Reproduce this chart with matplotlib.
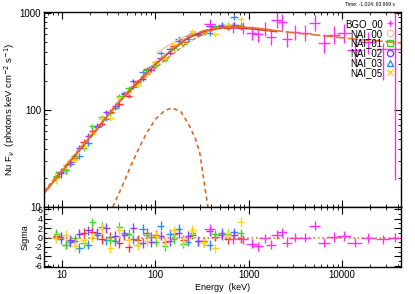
import numpy as np
import matplotlib
matplotlib.use("Agg")
import matplotlib.pyplot as plt
from matplotlib.lines import Line2D
from matplotlib.ticker import LogLocator, NullFormatter, MultipleLocator

plt.rcParams['font.family'] = ['Liberation Sans', 'DejaVu Sans']
plt.rcParams['axes.unicode_minus'] = False

# model curves (keV, nuFnu)
model_e = [6.4, 10, 15, 20, 30, 40, 60, 100, 150, 220, 320, 450, 650, 900, 1300, 2000, 3500, 6000, 10000, 18000, 30000, 43000]
model_f = [14, 23.5, 38, 53, 85, 120, 185, 300, 420, 560, 650, 705, 725, 715, 690, 655, 615, 585, 555, 525, 505, 490]
nai_model_e = [6.4, 10, 20, 40, 100, 150, 220, 320, 450, 650, 900, 1300, 2000]
nai_model_f = [13.8, 23.2, 52, 118, 295, 410, 545, 635, 690, 705, 695, 672, 640]
comp_e = [6.4, 10, 20, 40, 60, 100, 150, 220, 320, 450, 650, 900, 1300, 2000]
comp_f = [14.6, 24.3, 54, 118, 172, 270, 370, 490, 600, 680, 715, 712, 690, 655]
peach_e = [105, 130, 170, 220, 280]
peach_f = [390, 445, 520, 585, 630]
bb_e = [35, 45, 55, 68, 81, 100, 125, 151, 190, 235, 270, 300, 340, 367]
bb_f = [10, 17, 27, 42, 58, 80, 98, 105, 95, 67, 50, 36, 16, 10]

# NaI energy bins
grid_a = [8.7, 10.9, 13.6, 17.0, 21.2, 26.5, 33, 41, 52, 65, 81, 101, 127, 158, 198, 250, 330, 440, 600, 820]
grid_a_lo = [8.0, 10.0, 12.5, 15.6, 19.5, 24.4, 30.4, 37.7, 47.8, 59.8, 74.5, 92.9, 117, 145, 182, 230, 300, 400, 550, 750]
grid_a_hi = [9.5, 11.9, 14.8, 18.5, 23.1, 28.9, 36.0, 44.7, 56.7, 70.9, 88.3, 110, 138, 172, 216, 272, 360, 480, 650, 900]
relerr_a = [0.12, 0.09, 0.08, 0.07, 0.06, 0.06, 0.06, 0.05, 0.05, 0.05, 0.05, 0.05, 0.05, 0.05, 0.05, 0.05, 0.05, 0.06, 0.06, 0.07]

grid_b = [9.7, 12.2, 15.2, 19.0, 23.8, 29.7, 37, 46.5, 58, 73, 91, 114, 142, 178, 224, 290, 385, 520, 700]
grid_b_lo = [8.9, 11.2, 14.0, 17.5, 21.9, 27.3, 34.0, 42.8, 53.4, 67.2, 83.7, 105, 131, 164, 206, 265, 350, 475, 640]
grid_b_hi = [10.6, 13.3, 16.6, 20.7, 25.9, 32.4, 40.3, 50.7, 63.2, 79.6, 99.2, 124, 155, 194, 244, 316, 420, 565, 765]
relerr_b = [0.10, 0.08, 0.07, 0.07, 0.06, 0.06, 0.05, 0.05, 0.05, 0.05, 0.05, 0.05, 0.05, 0.05, 0.05, 0.05, 0.06, 0.06, 0.07]

nai00_f = [20.4, 23.8, 32.3, 46.6, 60.8, 72.2, 96.1, 114, 140, 194, 261, 312, 344, 460, 500, 610, 624, 708, 705, 709]
nai00_r = [0.3, -1.5, -0.8, 1.0, 1.2, -0.3, 0.2, -1.2, -2.0, -0.5, 1.0, 0.5, -1.0, 0.8, -0.5, 0.6, -0.8, 0.2, -0.4, -0.2]
nai01_f = [21.0, 23.8, 33.5, 40.8, 67.6, 83.6, 92.2, 139, 167, 182, 255, 287, 326, 431, 476, 621, 616, 729, 757, 757]
nai01_r = [0.8, -1.5, -0.2, -1.2, 3.2, 2.3, -0.5, 2.2, 0.8, -1.5, 0.6, -0.9, -1.8, -0.3, -1.3, 0.9, -1.0, 0.7, 0.8, 0.9]
nai05_f = [19.8, 26.9, 30.2, 42.4, 56.7, 81.4, 81.9, 134, 153, 181, 234, 310, 340, 479, 494, 649, 616, 603, 744, 860]
nai05_r = [-0.2, 0.5, -1.8, -0.6, 0.0, 1.8, -2.3, 1.5, -0.6, -1.6, -0.8, 0.4, -1.2, 1.5, -0.7, 1.7, -1.0, -2.3, 0.5, 3.3]
nai02_f = [23.0, 28.9, 40.3, 54.5, 68.7, 94.1, 111, 145, 199, 207, 259, 342, 383, 517, 573, 602, 733, 736, 750]
nai02_r = [0.2, -0.5, 0.8, 1.5, 1.0, 2.0, 0.3, 0.5, 2.0, -1.2, -1.0, 0.4, -0.8, 1.0, 0.3, -0.7, 1.3, 0.5, 0.6]
nai03_f = [22.3, 28.0, 33.4, 45.5, 66.7, 81.0, 104, 149, 174, 247, 278, 384, 421, 544, 533, 598, 615, 758, 900]
nai03_r = [-0.3, -1.0, -2.2, -1.5, 0.5, -0.6, -0.8, 0.9, -0.4, 1.8, 0.2, 2.5, 0.8, 1.9, -0.9, -0.8, -1.6, 1.0, 1.1]

# BGO
bgo_e = [385, 680, 870, 1090, 1260, 1500, 1740, 2020, 2280, 2580, 3140, 4020, 5150, 6430, 8230, 10500, 13800, 19000, 27600, 37000]
bgo_lo = [330, 590, 760, 950, 1100, 1300, 1520, 1760, 2000, 2260, 2700, 3450, 4400, 5500, 7000, 8800, 11500, 16000, 23000, 31000]
bgo_hi = [440, 760, 980, 1230, 1420, 1690, 1960, 2280, 2570, 2920, 3600, 4650, 5900, 7400, 9600, 12500, 16500, 22500, 33000, 43000]
bgo_f = [760, 715, 700, 620, 600, 690, 566, 847, 807, 540, 636, 621, 789, 490, 593, 621, 416, 500, 420, 420]
bgo_dn = [90, 90, 90, 100, 100, 110, 100, 150, 140, 100, 110, 110, 140, 100, 120, 130, 110, 120, 215, 401]
bgo_up = [100, 100, 100, 110, 110, 120, 110, 170, 160, 110, 120, 130, 160, 110, 140, 150, 130, 140, 70, 730]
bgo_r = [1.9, -0.4, -0.4, -1.3, -1.9, -0.2, -1.5, 0.6, 1.1, -1.1, 0.0, 0.0, 2.5, -1.1, 0.1, 0.3, -1.1, -0.1, -0.4, 0.0]

c_bgo = '#ff2cff'
c_n00 = '#ff2a2a'
c_n01 = '#33dd22'
c_n02 = '#8a3cff'
c_n03 = '#2a8cff'
c_n05 = '#ffd21e'
c_mod = '#e8742a'

fig = plt.figure(figsize=(4.15, 2.94), dpi=100)
ax = fig.add_axes([0.106, 0.296, 0.86, 0.663])
axr = fig.add_axes([0.106, 0.092, 0.86, 0.204], sharex=ax)

sets = [
    (grid_a, grid_a_lo, grid_a_hi, relerr_a, nai00_f, nai00_r, c_n00),
    (grid_b, grid_b_lo, grid_b_hi, relerr_b, nai03_f, nai03_r, c_n03),
    (grid_a, grid_a_lo, grid_a_hi, relerr_a, nai01_f, nai01_r, c_n01),
    (grid_b, grid_b_lo, grid_b_hi, relerr_b, nai02_f, nai02_r, c_n02),
    (grid_a, grid_a_lo, grid_a_hi, relerr_a, nai05_f, nai05_r, c_n05),
]
for e, lo, hi, rel, f, r, c in sets:
    e = np.array(e)
    xerr = [e - np.array(lo), np.array(hi) - e]
    f = np.array(f)
    ax.errorbar(e, f, xerr=xerr, yerr=f * np.array(rel), fmt='none', ecolor=c, elinewidth=1.0, capsize=0)
    axr.errorbar(e, r, xerr=xerr, yerr=1.0, fmt='none', ecolor=c, elinewidth=1.0, capsize=0)

be = np.array(bgo_e)
bxerr = [be - np.array(bgo_lo), np.array(bgo_hi) - be]
ax.errorbar(be, bgo_f, xerr=bxerr, yerr=[bgo_dn, bgo_up], fmt='none', ecolor=c_bgo, elinewidth=1.0, capsize=0)
axr.errorbar(be, bgo_r, xerr=bxerr, yerr=1.0, fmt='none', ecolor=c_bgo, elinewidth=1.0, capsize=0)

# models
ax.plot(peach_e, peach_f, color='#f6bf98', lw=0.9)
ax.plot(nai_model_e, nai_model_f, color='#c8401e', lw=1.1)
ax.plot(comp_e, comp_f, color=c_mod, lw=1.0, dashes=(3, 1.5))
ax.plot(model_e, model_f, color=c_mod, lw=1.2, dashes=(6, 1.5))
ax.plot(bb_e, bb_f, color='#d86a22', lw=1.2, dashes=(2.5, 2))
axr.axhline(0, color=c_mod, lw=1.2, ls=':')

ax.set_xscale('log')
ax.set_yscale('log')
ax.set_xlim(6.4, 43000)
ax.set_ylim(10, 1020)
ax.set_yticks([10, 100, 1000], labels=['10', '100', '1000'])
ax.yaxis.set_minor_locator(LogLocator(subs=np.arange(2, 10)))
ax.yaxis.set_minor_formatter(NullFormatter())
ax.set_ylabel(r'Nu F$_{\nu}$  (photons keV cm$^{-2}$ s$^{-1}$)', fontsize=6.8, labelpad=2)
plt.setp(ax.get_xticklabels(), visible=False)

axr.set_ylim(-6.25, 6.5)
axr.set_yticks([-6, -4, -2, 0, 2, 4, 6])
axr.yaxis.set_minor_locator(MultipleLocator(1))
axr.set_xticks([10, 100, 1000, 10000], labels=['10', '100', '1000', '10000'])
axr.xaxis.set_minor_locator(LogLocator(subs=np.arange(2, 10)))
axr.xaxis.set_minor_formatter(NullFormatter())
axr.set_xlim(6.4, 43000)
axr.set_ylabel('Sigma', fontsize=6.5, labelpad=4)
axr.set_xlabel('Energy  (keV)', fontsize=6.5, labelpad=2)

for a in (ax, axr):
    a.tick_params(which='both', direction='in', top=True, right=True, labelsize=7, pad=2)
    a.tick_params(which='major', length=5, width=0.8)
    a.tick_params(which='minor', length=2.5, width=0.6)
    for s in a.spines.values():
        s.set_linewidth(1.0)
axr.tick_params(axis='y', labelsize=6.3, pad=1)

handles = [
    Line2D([], [], ls='none', marker='+', color=c_bgo, markersize=5, mew=1.0),
    Line2D([], [], ls='none', marker='o', color='#ffb6b6', mfc='none', markersize=4.5, mew=0.8),
    Line2D([], [], ls='none', marker='s', color=c_n01, mfc='none', markersize=4.5, mew=1.0),
    Line2D([], [], ls='none', marker='o', color=c_n02, mfc='none', markersize=4.5, mew=1.0),
    Line2D([], [], ls='none', marker='^', color=c_n03, mfc='none', markersize=4.5, mew=1.0),
    Line2D([], [], ls='none', marker='x', color=c_n05, markersize=4.5, mew=1.0),
]
labels = ['BGO_00', 'NAI_00', 'NAI_01', 'NAI_02', 'NAI_03', 'NAI_05']
ax.legend(handles, labels, loc='upper right', bbox_to_anchor=(0.99, 0.985), frameon=False,
          markerfirst=False, fontsize=7, handlelength=0.8, handletextpad=0.3,
          labelspacing=-0.02, borderpad=0.2, borderaxespad=0.2)

fig.text(0.952, 0.983, 'Time: -1.024: 83.969 s', fontsize=3.6, ha='right', va='center')

fig.savefig('out.png', dpi=100)
